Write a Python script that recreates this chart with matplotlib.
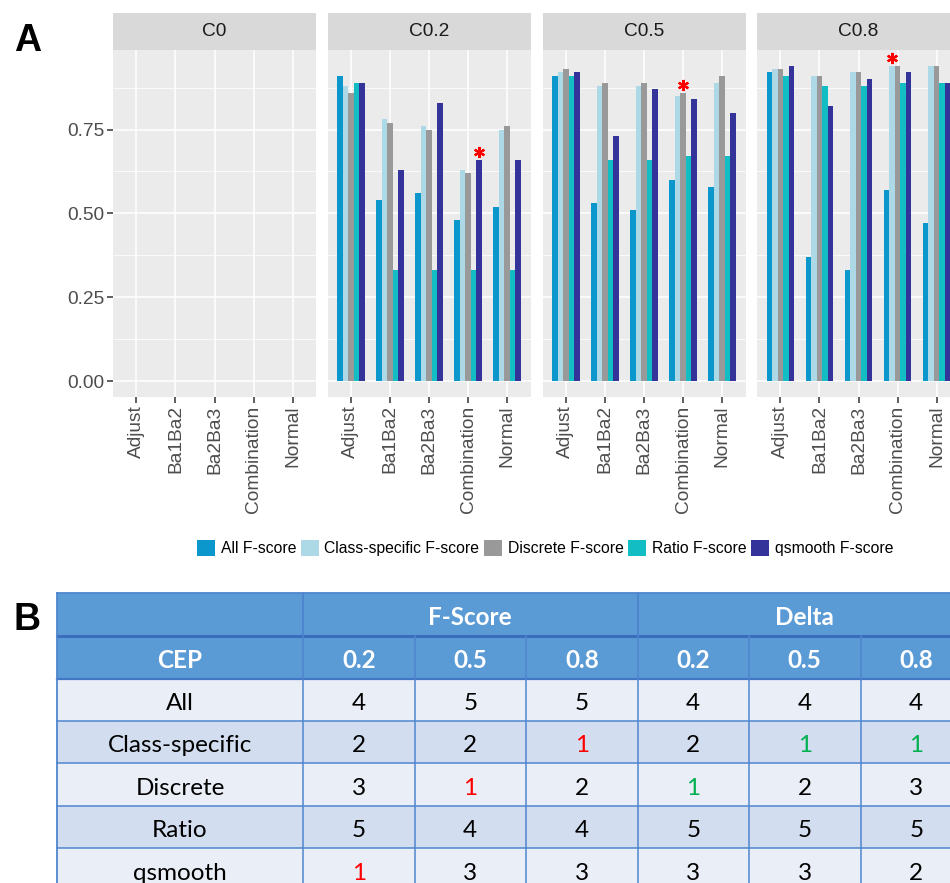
import matplotlib
matplotlib.use("Agg")
import matplotlib.pyplot as plt
from matplotlib.patches import Rectangle
import numpy as np

# ---------------- data ----------------
methods = ["Adjust", "Ba1Ba2", "Ba2Ba3", "Combination", "Normal"]
panels = ["C0", "C0.2", "C0.5", "C0.8"]
series = ["All F-score", "Class-specific F-score", "Discrete F-score",
          "Ratio F-score", "qsmooth F-score"]
series_colors = ["#0B97CC", "#ADD8E6", "#999999", "#13BDC4", "#333399"]

# F-scores per series (rows) and method (columns); C0 has no bars
scores_c0 = []
scores_c02 = [
    [0.91, 0.54, 0.56, 0.48, 0.52],
    [0.88, 0.78, 0.76, 0.63, 0.75],
    [0.86, 0.77, 0.75, 0.62, 0.76],
    [0.89, 0.33, 0.33, 0.33, 0.33],
    [0.89, 0.63, 0.83, 0.66, 0.66],
]
scores_c05 = [
    [0.91, 0.53, 0.51, 0.60, 0.58],
    [0.92, 0.88, 0.88, 0.85, 0.89],
    [0.93, 0.89, 0.89, 0.86, 0.91],
    [0.91, 0.66, 0.66, 0.67, 0.67],
    [0.92, 0.73, 0.87, 0.84, 0.80],
]
scores_c08 = [
    [0.92, 0.37, 0.33, 0.57, 0.47],
    [0.93, 0.91, 0.92, 0.94, 0.94],
    [0.93, 0.91, 0.92, 0.94, 0.94],
    [0.91, 0.88, 0.88, 0.89, 0.89],
    [0.94, 0.82, 0.90, 0.92, 0.89],
]
panel_scores = [scores_c0, scores_c02, scores_c05, scores_c08]

# best F-score marked with a red asterisk: (panel, method, series index)
star_panels = ["C0.2", "C0.5", "C0.8"]
star_methods = ["Combination", "Combination", "Combination"]
star_series = [4, 2, 1]

y_ticks = [0.0, 0.25, 0.50, 0.75]
y_ticklabels = ["0.00", "0.25", "0.50", "0.75"]

# ranking table
table_rows = ["All", "Class-specific", "Discrete", "Ratio", "qsmooth"]
table_groups = ["F-Score", "Delta"]
table_ceps = ["0.2", "0.5", "0.8"]
fscore_rank_02 = [4, 2, 3, 5, 1]
fscore_rank_05 = [5, 2, 1, 4, 3]
fscore_rank_08 = [5, 1, 2, 4, 3]
delta_rank_02 = [4, 2, 1, 5, 3]
delta_rank_05 = [4, 1, 2, 5, 3]
delta_rank_08 = [4, 1, 3, 5, 2]

# ---------------- figure ----------------
W, H = 950, 883
fig = plt.figure(figsize=(W / 100, H / 100), dpi=100)
plt.rcParams["font.family"] = ["Liberation Sans", "DejaVu Sans"]


def fx(px):
    return px / W


def fy(py):
    return 1 - py / H


panel_left = [113, 327.5, 542.5, 757]
panel_w = 203
panel_top, panel_bot, strip_top = 50, 397, 13.3

all_vals = [v for p in panel_scores for s in p for v in s]
ymax = max(all_vals)
x = np.arange(1, len(methods) + 1)
n_series = len(series)
group_w = 0.7
bar_w = group_w / n_series

handles = None
for i, (name, scores) in enumerate(zip(panels, panel_scores)):
    ax = fig.add_axes([fx(panel_left[i]), fy(panel_bot), panel_w / W,
                       (panel_bot - panel_top) / H])
    ax.set_facecolor("#EBEBEB")
    ax.set_xlim(0.4, len(methods) + 0.6)
    ax.set_ylim(-0.05 * ymax, 1.05 * ymax)
    ax.set_yticks(y_ticks)
    ax.set_yticks([0.125, 0.375, 0.625, 0.875], minor=True)
    ax.set_yticklabels(y_ticklabels)
    ax.set_xticks(x)
    ax.set_xticklabels(methods, rotation=90)
    ax.grid(which="major", color="white", lw=1.1)
    ax.grid(which="minor", axis="y", color="white", lw=0.55)
    ax.set_axisbelow(True)
    for sp in ax.spines.values():
        sp.set_visible(False)
    ax.tick_params(axis="both", which="major", length=4, width=1.1,
                   color="#333333", labelcolor="#4D4D4D", labelsize=13.8, pad=2)
    ax.tick_params(which="minor", length=0)
    if i > 0:
        ax.tick_params(axis="y", left=False, labelleft=False)

    bars = []
    for s, vals in enumerate(scores):
        offs = -group_w / 2 + bar_w / 2 + bar_w * s
        b = ax.bar(x + offs, vals, width=bar_w, color=series_colors[s],
                   label=series[s], zorder=2, linewidth=0)
        bars.append(b)
    if bars and handles is None:
        handles = bars

    for sp_name, m_name, s_idx in zip(star_panels, star_methods, star_series):
        if sp_name == name:
            m = methods.index(m_name)
            v = scores[s_idx][m]
            xs = x[m] - group_w / 2 + bar_w / 2 + bar_w * s_idx
            ax.plot(xs, v + 0.024, marker=(6, 2, 0), color="#FF0000",
                    markersize=8, mew=1.6, zorder=3, clip_on=False)

    sax = fig.add_axes([fx(panel_left[i]), fy(panel_top), panel_w / W,
                        (panel_top - strip_top) / H])
    sax.set_facecolor("#D9D9D9")
    sax.set_xticks([])
    sax.set_yticks([])
    for sp in sax.spines.values():
        sp.set_visible(False)
    sax.text(0.5, 0.5, name, ha="center", va="center", transform=sax.transAxes,
             fontsize=13.8, color="#1A1A1A")

fig.legend(handles, series, loc="center", bbox_to_anchor=(fx(545), fy(548)),
           ncol=5, frameon=False, fontsize=11.3, handlelength=1.15,
           handleheight=1.15, handletextpad=0.35, columnspacing=0.3,
           borderaxespad=0)

# ---------------- overlay: panel letters and ranking table ----------------
tax = fig.add_axes([0, 0, 1, 1], zorder=-1)
tax.set_xlim(0, W)
tax.set_ylim(H, 0)
tax.axis("off")

tax.text(14, 51, "A", fontsize=27, fontweight="bold", va="baseline",
         family=["Liberation Sans"])
tax.text(14, 630, "B", fontsize=27, fontweight="bold", va="baseline",
         family=["Liberation Sans"])

col_edges = [57, 303, 414.5, 526, 637.5, 749, 860.5, 972]
row_edges = [593, 635.5, 678.5, 720.5, 763, 805.5, 848, 890.5]
header_fill = "#5B9BD5"
row_fills = ["#EAEFF7", "#D2DEEF"]
line_col = "#4F86CF"
tfont = ["Lato", "DejaVu Sans"]
tsize = 17.5

# header fills
tax.add_patch(Rectangle((col_edges[0], row_edges[0]), col_edges[-1] - col_edges[0],
                        row_edges[2] - row_edges[0], facecolor=header_fill,
                        edgecolor="none"))
# body fills
for r in range(len(table_rows)):
    tax.add_patch(Rectangle((col_edges[0], row_edges[r + 2]),
                            col_edges[-1] - col_edges[0],
                            row_edges[r + 3] - row_edges[r + 2],
                            facecolor=row_fills[r % 2], edgecolor="none"))

# grid lines
for yv in row_edges[3:-1]:
    tax.plot([col_edges[0], col_edges[-1]], [yv, yv], color=line_col, lw=1.1)
tax.plot([col_edges[0], col_edges[-1]], [row_edges[2], row_edges[2]],
         color="#4177C4", lw=1.6)
tax.plot([col_edges[0], col_edges[-1]], [row_edges[1], row_edges[1]],
         color="#3A6DBB", lw=2.2)
for xv in col_edges[1:-1]:
    tax.plot([xv, xv], [row_edges[1], row_edges[-1]], color=line_col, lw=1.1)
for xv in (col_edges[1], col_edges[4]):
    tax.plot([xv, xv], [row_edges[0], row_edges[1]], color="#4A80CC", lw=1.1)
tax.plot([col_edges[0]] * 2, [row_edges[0], row_edges[-1]], color=line_col, lw=1.3)
tax.plot([col_edges[0], col_edges[-1]], [row_edges[0]] * 2, color=line_col, lw=1.3)

baseline_shift = 10.5
# header text
group_centers = [(col_edges[1] + col_edges[4]) / 2, (col_edges[4] + col_edges[7]) / 2]
y1 = (row_edges[0] + row_edges[1]) / 2 + baseline_shift
for gc, g in zip(group_centers, table_groups):
    tax.text(gc, y1, g, ha="center", va="baseline", color="white",
             fontsize=tsize, fontweight="bold", family=tfont)
y2 = (row_edges[1] + row_edges[2]) / 2 + baseline_shift
tax.text((col_edges[0] + col_edges[1]) / 2, y2, "CEP", ha="center",
         va="baseline", color="white", fontsize=tsize, fontweight="bold",
         family=tfont)
for c, cep in enumerate(table_ceps * 2):
    tax.text((col_edges[c + 1] + col_edges[c + 2]) / 2, y2, cep, ha="center",
             va="baseline", color="white", fontsize=tsize, fontweight="bold",
             family=tfont)

# body text
rank_cols = [fscore_rank_02, fscore_rank_05, fscore_rank_08,
             delta_rank_02, delta_rank_05, delta_rank_08]
for r, label in enumerate(table_rows):
    yb = (row_edges[r + 2] + row_edges[r + 3]) / 2 + baseline_shift
    tax.text((col_edges[0] + col_edges[1]) / 2, yb, label, ha="center",
             va="baseline", color="black", fontsize=tsize, family=tfont)
    for c, col in enumerate(rank_cols):
        val = col[r]
        if val == 1:
            color = "#FF0000" if c < 3 else "#00B050"
        else:
            color = "black"
        tax.text((col_edges[c + 1] + col_edges[c + 2]) / 2, yb, str(val),
                 ha="center", va="baseline", color=color, fontsize=tsize,
                 family=tfont)

fig.savefig("out.png", dpi=100)
